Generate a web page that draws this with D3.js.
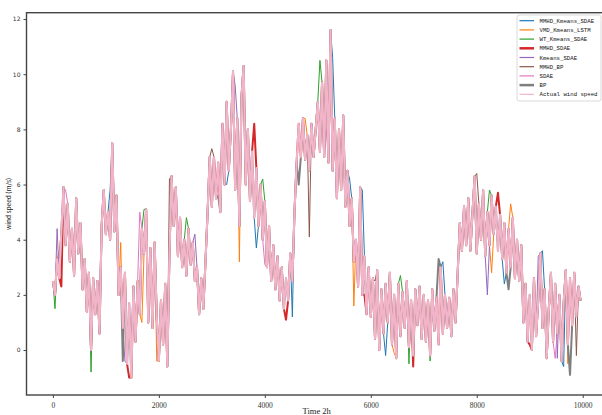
<!DOCTYPE html>
<html>
<head>
<meta charset="utf-8">
<script src="https://cdn.jsdelivr.net/npm/d3@7"></script>
<style>
  body { margin: 0; background: #fff; }
  svg { display: block; }
</style>
</head>
<body>
<svg id="chart" width="602" height="415"></svg>
<script>
"use strict";

// sampling step of the read-off series (time index, 2h units)
const step = 40;

// actual wind speed, one value every 40 steps
const actualSpeed = [
  2.5, 2.0, 3.3, 2.6, 4.3, 5.9, 3.8, 5.3, 3.2, 4.4, 2.7, 5.5, 3.5, 4.6, 2.2, 3.3, 1.4, 2.8, 0.0, 2.6, 1.3, 2.5, 0.6, 4.5, 5.8,
  4.2, 5.0, 4.0, 7.5, 4.3, 5.6, 2.0, 3.0, 0.8, 2.8, -0.5, 1.7, -1.0, 2.3, 0.3, 2.5, 1.3, 4.4, 3.5, 5.1, 1.0, 3.7, 0.8, 3.9, 1.2,
  -0.4, 1.8, 0.2, 2.4, -0.6, 3.5, 6.3, 4.5, 5.9, 3.4, 4.8, 3.0, 4.0, 2.7, 4.4, 3.1, 3.9, 2.5, 3.0, 1.3, 2.6, 1.5, 3.2, 5.0, 7.0,
  5.2, 7.0, 5.5, 6.8, 5.0, 8.2, 6.0, 9.0, 6.5, 8.0, 10.1, 5.8, 8.4, 4.5, 9.2, 10.3, 6.0, 8.0, 5.4, 7.2, 4.8, 6.6, 4.5, 6.0, 4.0,
  5.4, 3.0, 4.5, 2.5, 3.8, 2.2, 3.4, 1.8, 3.0, 1.5, 2.6, 1.8, 3.5, 2.5, 5.0, 6.8, 8.2, 7.0, 8.4, 6.9, 7.8, 6.5, 8.2, 7.0, 8.0,
  9.0, 7.2, 9.7, 7.0, 10.5, 6.8, 11.6, 6.5, 8.4, 5.5, 8.0, 5.8, 8.5, 5.2, 6.5, 4.5, 5.5, 3.2, 4.0, 2.3, 5.9, 2.0, 3.4, 1.3, 3.0,
  1.2, 2.6, 0.4, 2.9, 0.0, 2.2, 0.6, 2.4, 1.0, 2.8, 0.2, 2.0, -0.3, 2.4, 0.5, 2.1, 0.8, 2.5, 0.1, 1.8, -0.2, 2.2, 0.9, 2.3, 0.4,
  2.0, 0.3, 1.8, -0.2, 2.2, 0.7, 1.9, 0.2, 3.0, 0.6, 2.0, 0.8, 1.9, 0.5, 2.2, 1.0, 2.8, 4.6, 3.6, 5.2, 3.8, 5.5, 3.6, 5.0, 6.3,
  3.5, 5.3, 4.0, 5.8, 3.4, 5.0, 3.8, 5.6, 4.2, 5.2, 3.6, 4.9, 3.3, 4.6, 2.8, 4.4, 3.0, 4.8, 2.6, 4.0, 2.5, 3.8, 1.0, 2.4, 0.3,
  2.0, 0.0, 2.6, 0.5, 1.8, 3.5, 0.8, 2.2, -0.3, 1.5, 2.8, 0.3, 2.4, 0.6, 2.0, -0.4, 1.7, 2.9, 0.2, 2.6, 0.9, 2.8, 1.2, 2.3, 1.8
];

// where each model's forecast leaves the actual curve: [time, value]
const mmhdKmeansSdae = [[5280, 10.6], [4520, 1.2], [6280, -0.2], [9240, 3.6], [9640, -0.6], [3840, 3.7], [5600, 6.2],
  [5840, 5.8], [7360, 3.2], [1080, 5.8], [8520, 2.4], [3280, 6.0]];
const vmdKmeansLstm = [[3520, 3.2], [1960, -0.4], [5680, 1.6], [9720, -0.5], [8280, 2.8], [8640, 5.3], [4760, 8.4],
  [1280, 3.9], [1680, 1.0], [120, 3.6], [6440, -0.1]];
const wtKmeansSdae = [[720, -0.8], [40, 1.5], [2520, 4.8], [1720, 5.1], [5040, 10.5], [6720, -0.5], [8240, 5.8],
  [7120, -0.4], [6560, 2.7], [3960, 6.2]];
const mmhdSdae = [[1440, -1.0], [6800, -0.6], [4400, 1.1], [5880, 2.0], [8400, 5.7], [9000, 0.2], [3800, 8.2], [160, 2.3]];
const kmeansSdae = [[8200, 2.0], [9520, -0.3], [80, 4.4], [1360, -0.4], [2680, 4.2], [9160, 3.4], [3440, 9.6]];
const mmhdBp = [[4840, 4.1], [8000, 6.4], [3000, 7.3], [2200, 6.2], [6080, 2.5], [9880, -0.2]];
const sdae = [[240, 5.8], [1640, 5.0], [4000, 3.1], [9480, -0.3], [880, 2.0], [5160, 8.0]];
const bp = [[9760, -0.9], [7280, 3.3], [8600, 2.2], [1320, -0.4], [3120, 5.6], [4640, 6.0]];

const seriesNames = ['MMHD_Kmeans_SDAE', 'VMD_Kmeans_LSTM', 'WT_Kmeans_SDAE', 'MMHD_SDAE',
  'Kmeans_SDAE', 'MMHD_BP', 'SDAE', 'BP', 'Actual wind speed'];
const seriesColors = ['#1f77b4', '#ff7f0e', '#2ca02c', '#d62728', '#9467bd', '#8c564b', '#e377c2', '#7f7f7f', '#f2b4c8'];
const seriesWidths = [1, 1, 1, 2, 1, 1, 1, 2, 2.1];

const xTicks = [0, 2000, 4000, 6000, 8000, 10000];
const yTicks = [0, 2, 4, 6, 8, 10, 12];

/*-- build the series ---------------------------------------------------------*/
const buildSeries = function(dev){
    const pts = actualSpeed.map(function(v, i){ return [i * step, v]; });
    dev.forEach(function(d){
        pts[d[0] / step] = [d[0], d[1]];
    });
    return pts;
};

const series = [mmhdKmeansSdae, vmdKmeansLstm, wtKmeansSdae, mmhdSdae, kmeansSdae, mmhdBp, sdae, bp]
  .map(buildSeries);
series.push(actualSpeed.map(function(v, i){ return [i * step, v]; }));

/*-- scales (matplotlib style 5% margins) ------------------------------------*/
const plotLeft = 26.5, plotRight = 607, plotTop = 12.7, plotBottom = 395;

const allPts = [].concat.apply([], series);
const xExt = d3.extent(allPts, function(d){ return d[0]; });
const yExt = d3.extent(allPts, function(d){ return d[1]; });
const xPad = (xExt[1] - xExt[0]) * 0.05;
const yPad = (yExt[1] - yExt[0]) * 0.05;

const x = d3.scaleLinear().domain([xExt[0] - xPad, xExt[1] + xPad]).range([plotLeft, plotRight]);
const y = d3.scaleLinear().domain([yExt[0] - yPad, yExt[1] + yPad]).range([plotBottom, plotTop]);

const svg = d3.select('#chart');

/*-- lines -------------------------------------------------------------------*/
const line = d3.line()
               .x(function(d){ return x(d[0]); })
               .y(function(d){ return y(d[1]); });

svg.append('g')
   .selectAll('path')
   .data(series)
   .enter()
   .append('path')
   .attr('d', line)
   .attr('fill', 'none')
   .attr('stroke', function(d, i){ return seriesColors[i]; })
   .attr('stroke-width', function(d, i){ return seriesWidths[i]; })
   .attr('stroke-linejoin', 'round');

/*-- frame and axes ----------------------------------------------------------*/
svg.append('rect')
   .attr('x', plotLeft)
   .attr('y', plotTop)
   .attr('width', plotRight - plotLeft)
   .attr('height', plotBottom - plotTop)
   .attr('fill', 'none')
   .attr('stroke', '#444')
   .attr('stroke-width', 1.4);

const xAxis = svg.append('g')
                 .attr('transform', 'translate(0,' + plotBottom + ')')
                 .call(d3.axisBottom(x).tickValues(xTicks).tickSize(3).tickFormat(d3.format('d')));
xAxis.select('.domain').remove();
xAxis.selectAll('line').attr('stroke', '#444');
xAxis.selectAll('text')
     .attr('dy', '0.9em')
     .style('font-family', '"Liberation Serif", serif')
     .style('font-size', '7.5px')
     .attr('fill', '#333');

const yAxis = svg.append('g')
                 .attr('transform', 'translate(' + plotLeft + ',0)')
                 .call(d3.axisLeft(y).tickValues(yTicks).tickSize(3));
yAxis.select('.domain').remove();
yAxis.selectAll('line').attr('stroke', '#444');
yAxis.selectAll('text')
     .style('font-family', '"DejaVu Sans", sans-serif')
     .style('font-size', '6px')
     .attr('fill', '#333');

svg.append('text')
   .attr('x', (plotLeft + plotRight) / 2)
   .attr('y', 414)
   .attr('text-anchor', 'middle')
   .style('font-family', '"Liberation Serif", serif')
   .style('font-size', '8.5px')
   .attr('fill', '#222')
   .text('Time 2h');

svg.append('text')
   .attr('transform', 'translate(11,' + ((plotTop + plotBottom) / 2) + ') rotate(-90)')
   .attr('text-anchor', 'middle')
   .style('font-family', '"Noto Sans CJK SC", sans-serif')
   .style('font-size', '6.5px')
   .attr('fill', '#222')
   .text('wind speed (m/s)');

/*-- legend ------------------------------------------------------------------*/
const legend = svg.append('g').attr('transform', 'translate(517,15)');

legend.append('rect')
      .attr('width', 84)
      .attr('height', 86)
      .attr('rx', 2)
      .attr('fill', 'rgba(255,255,255,0.8)')
      .attr('stroke', '#d0d0d0')
      .attr('stroke-width', 0.8);

const legendRow = legend.selectAll('g.row')
                        .data(seriesNames)
                        .enter()
                        .append('g')
                        .attr('class', 'row')
                        .attr('transform', function(d, i){ return 'translate(0,' + (5.7 + i * 9.2) + ')'; });

legendRow.append('line')
         .attr('x1', 2.5)
         .attr('x2', 17)
         .attr('stroke', function(d, i){ return seriesColors[i]; })
         .attr('stroke-width', function(d, i){ return i === 3 || i === 7 ? 2.5 : 1.2; });

legendRow.append('text')
         .attr('x', 22.5)
         .attr('dy', '0.35em')
         .style('font-family', '"Liberation Mono", monospace')
         .style('font-size', '5.7px')
         .attr('fill', '#111')
         .text(function(d){ return d; });
</script>
</body>
</html>
